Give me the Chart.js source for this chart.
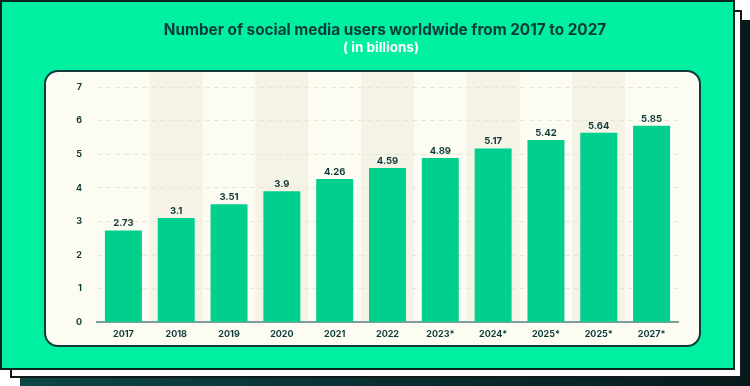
<!DOCTYPE html>
<html>
<head>
<meta charset="utf-8">
<script src="https://cdn.jsdelivr.net/npm/chart.js@4.4.1/dist/chart.umd.min.js"></script>
<style>
  html, body { margin: 0; padding: 0; width: 750px; height: 386px; overflow: hidden; background: #ffffff; }
  * { box-sizing: border-box; }
  .back { position: absolute; left: 20px; top: 20px; width: 730px; height: 366px;
          background: linear-gradient(90deg, #0c4645 0%, #0a2e30 50%, #08191b 100%); }
  .mid { position: absolute; left: 10px; top: 10px; width: 732px; height: 368px;
         background: #ffffff; border: 2px solid #111a1a; }
  .front { position: absolute; left: 0; top: 0; width: 735px; height: 370px;
           background: #00EFA0; border: 2px solid #0c2422; }
  .panel { position: absolute; left: 44px; top: 70px; width: 657px; height: 277px;
           background: #FDFCF3; border: 2px solid #0d3b3a; border-radius: 14px; }
  #wrap { position: absolute; left: 0; top: 0; width: 735px; height: 370px; }
</style>
</head>
<body>
<div class="back"></div>
<div class="mid"></div>
<div class="front"></div>
<div class="panel"></div>
<div id="wrap"><canvas id="c"></canvas></div>
<script>
const categories = ["2017", "2018", "2019", "2020", "2021", "2022", "2023*", "2024*", "2025*", "2025*", "2027*"];
const users = [2.73, 3.1, 3.51, 3.9, 4.26, 4.59, 4.89, 5.17, 5.42, 5.64, 5.85];
const yTicks = [0, 1, 2, 3, 4, 5, 6, 7];
const titleText = "Number of social media users worldwide from 2017 to 2027";
const subtitleText = "( in billions)";

const DARK = "#0d3b3a";
const FONT = "Inter, 'DejaVu Sans', sans-serif";

const headerPlugin = {
  id: "header",
  afterDraw(chart) {
    const { ctx } = chart;
    ctx.save();
    ctx.textAlign = "center";
    ctx.textBaseline = "middle";
    ctx.fillStyle = DARK;
    ctx.font = "700 15.3px " + FONT;
    ctx.fillText(titleText, 385, 30);
    ctx.fillStyle = "#ffffff";
    ctx.font = "700 13.5px " + FONT;
    ctx.fillText(subtitleText, 381, 48);
    ctx.restore();
  }
};

const bandPlugin = {
  id: "bands",
  beforeDraw(chart) {
    const { ctx, chartArea, scales } = chart;
    const x = scales.x;
    const w = (chartArea.right - chartArea.left) / categories.length;
    ctx.save();
    ctx.fillStyle = "#F5F2E6";
    for (let i = 1; i < categories.length; i += 2) {
      const cx = x.getPixelForValue(i);
      ctx.fillRect(cx - w / 2, 72, w, chartArea.bottom - 72);
    }
    ctx.restore();
  }
};

const labelPlugin = {
  id: "barLabels",
  afterDatasetsDraw(chart) {
    const { ctx } = chart;
    const meta = chart.getDatasetMeta(0);
    ctx.save();
    ctx.fillStyle = DARK;
    ctx.font = "700 9.5px " + FONT;
    ctx.textAlign = "center";
    ctx.textBaseline = "alphabetic";
    meta.data.forEach((bar, i) => {
      ctx.fillText(String(users[i]), bar.x, bar.y - 4);
    });
    ctx.restore();
  }
};

new Chart(document.getElementById("c"), {
  type: "bar",
  data: {
    labels: categories,
    datasets: [{
      data: users,
      backgroundColor: "#00CF8E",
      borderWidth: 0,
      categoryPercentage: 1,
      barPercentage: 0.7
    }]
  },
  plugins: [bandPlugin, labelPlugin, headerPlugin],
  options: {
    responsive: true,
    maintainAspectRatio: false,
    animation: false,
    layout: { padding: { left: 37, right: 57, top: 87, bottom: 23 } },
    plugins: {
      legend: { display: false },
      tooltip: { enabled: false },
      title: { display: false },
      subtitle: { display: false }
    },
    scales: {
      x: {
        grid: { display: false, drawTicks: false },
        border: { display: true, color: "#7f9e99", width: 2 },
        ticks: { color: DARK, font: { family: FONT, size: 9, weight: "700" }, padding: 7 }
      },
      y: {
        min: 0, max: 7,
        afterFit(s) { s.width = 60; },
        afterBuildTicks(s) { s.ticks = yTicks.map(v => ({ value: v })); },
        grid: { color: "#EAE6D4", lineWidth: 1, drawTicks: false },
        border: { display: false, dash: [5, 4] },
        ticks: { color: DARK, font: { family: FONT, size: 9, weight: "700" }, padding: 15 }
      }
    }
  }
});
</script>
</body>
</html>
